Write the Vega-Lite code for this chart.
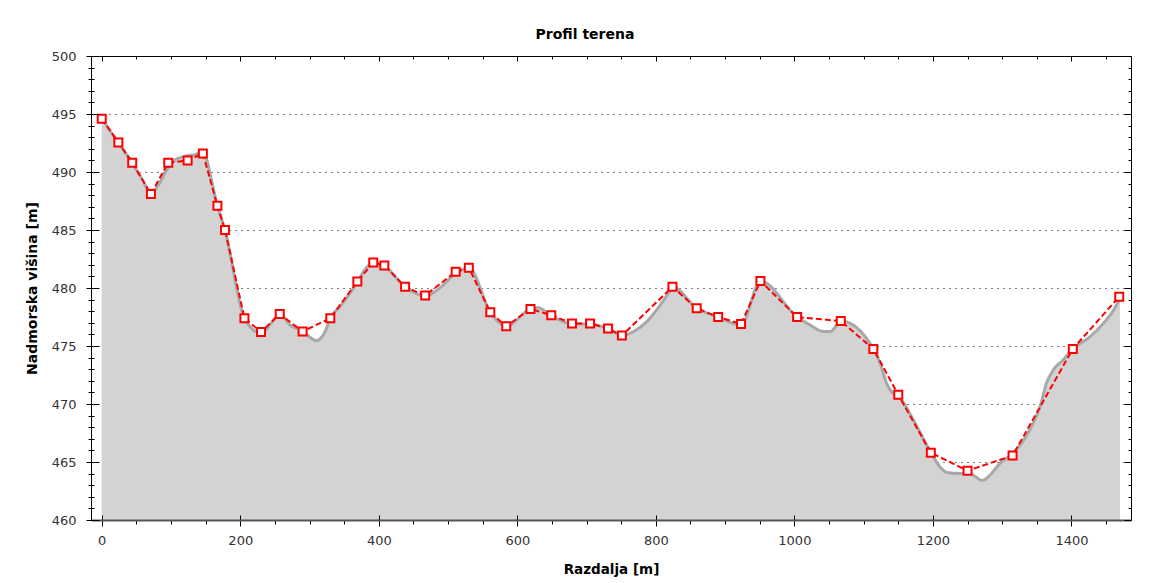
{
  "$schema": "https://vega.github.io/schema/vega-lite/v6.json",
  "autosize": {"type": "none"},
  "padding": {"left": 91, "top": 56, "right": 19, "bottom": 63},
  "width": 1040,
  "height": 464,
  "background": "white",
  "title": {"text": "Profil terena", "font": "DejaVu Sans", "fontSize": 14, "fontWeight": "bold", "color": "#000", "anchor": "middle", "dx": -26, "offset": 8},
  "config": {
    "view": {"stroke": "#000", "strokeWidth": 1},
    "axis": {"labelFont": "DejaVu Sans", "labelFontSize": 13, "labelColor": "#333", "titleFont": "DejaVu Sans", "titleFontSize": 13.5, "titleFontWeight": "bold", "titleColor": "#000", "tickColor": "#000", "domainColor": "#000", "grid": false}
  },
  "datasets": {
    "terrain": [
      {"distance": 0, "elevation": 494.6}, {"distance": 24, "elevation": 492.5}, {"distance": 44, "elevation": 490.8},
      {"distance": 60, "elevation": 489.2}, {"distance": 71, "elevation": 488.1}, {"distance": 82, "elevation": 488.9},
      {"distance": 94, "elevation": 490.2}, {"distance": 106, "elevation": 491.05}, {"distance": 120, "elevation": 491.35},
      {"distance": 135, "elevation": 491.5}, {"distance": 145, "elevation": 491.8}, {"distance": 167, "elevation": 487.1},
      {"distance": 178, "elevation": 485.0}, {"distance": 206, "elevation": 477.4}, {"distance": 230, "elevation": 476.1},
      {"distance": 245, "elevation": 477.0}, {"distance": 257, "elevation": 477.75}, {"distance": 272, "elevation": 476.8},
      {"distance": 291, "elevation": 476.25}, {"distance": 302, "elevation": 475.7}, {"distance": 310, "elevation": 475.45},
      {"distance": 318, "elevation": 475.8}, {"distance": 323, "elevation": 476.3}, {"distance": 330, "elevation": 477.4},
      {"distance": 344, "elevation": 478.4}, {"distance": 369, "elevation": 480.5}, {"distance": 380, "elevation": 481.6},
      {"distance": 392, "elevation": 482.2}, {"distance": 408, "elevation": 481.9}, {"distance": 438, "elevation": 480.1},
      {"distance": 467, "elevation": 479.3}, {"distance": 488, "elevation": 480.0}, {"distance": 508, "elevation": 481.1},
      {"distance": 530, "elevation": 481.75}, {"distance": 561, "elevation": 477.9}, {"distance": 584, "elevation": 476.7},
      {"distance": 619, "elevation": 478.2}, {"distance": 630, "elevation": 478.3}, {"distance": 649, "elevation": 477.6},
      {"distance": 679, "elevation": 476.9}, {"distance": 705, "elevation": 476.9}, {"distance": 731, "elevation": 476.5},
      {"distance": 751, "elevation": 475.9}, {"distance": 768, "elevation": 476.25}, {"distance": 787, "elevation": 477.1},
      {"distance": 806, "elevation": 478.5}, {"distance": 818, "elevation": 479.55}, {"distance": 824, "elevation": 480.1},
      {"distance": 859, "elevation": 478.25}, {"distance": 890, "elevation": 477.5}, {"distance": 923, "elevation": 476.8},
      {"distance": 951, "elevation": 480.6}, {"distance": 1004, "elevation": 477.5}, {"distance": 1023, "elevation": 476.8},
      {"distance": 1042, "elevation": 476.25}, {"distance": 1052, "elevation": 476.25}, {"distance": 1061, "elevation": 476.8},
      {"distance": 1067, "elevation": 477.15}, {"distance": 1114, "elevation": 474.75}, {"distance": 1124, "elevation": 473.5},
      {"distance": 1133, "elevation": 471.8}, {"distance": 1143, "elevation": 470.9}, {"distance": 1150, "elevation": 470.7},
      {"distance": 1172, "elevation": 468.6}, {"distance": 1197, "elevation": 465.8}, {"distance": 1210, "elevation": 464.6},
      {"distance": 1220, "elevation": 464.1}, {"distance": 1239, "elevation": 464.0}, {"distance": 1254, "elevation": 464.0},
      {"distance": 1262, "elevation": 463.7}, {"distance": 1271, "elevation": 463.4}, {"distance": 1283, "elevation": 463.9},
      {"distance": 1297, "elevation": 464.9}, {"distance": 1315, "elevation": 465.7}, {"distance": 1340, "elevation": 467.8},
      {"distance": 1355, "elevation": 469.8}, {"distance": 1364, "elevation": 471.8}, {"distance": 1374, "elevation": 472.95},
      {"distance": 1388, "elevation": 473.8}, {"distance": 1402, "elevation": 474.75}, {"distance": 1427, "elevation": 475.8},
      {"distance": 1446, "elevation": 476.95}, {"distance": 1463, "elevation": 478.3}, {"distance": 1470, "elevation": 479.1}
    ],
    "points": [
      {"distance": 0, "elevation": 494.6}, {"distance": 24, "elevation": 492.55}, {"distance": 44, "elevation": 490.8},
      {"distance": 71, "elevation": 488.1}, {"distance": 96, "elevation": 490.8}, {"distance": 124, "elevation": 491.0},
      {"distance": 146, "elevation": 491.6}, {"distance": 167, "elevation": 487.1}, {"distance": 178, "elevation": 485.0},
      {"distance": 206, "elevation": 477.4}, {"distance": 230, "elevation": 476.2}, {"distance": 257, "elevation": 477.75},
      {"distance": 290, "elevation": 476.25}, {"distance": 330, "elevation": 477.4}, {"distance": 369, "elevation": 480.55},
      {"distance": 392, "elevation": 482.2}, {"distance": 408, "elevation": 481.95}, {"distance": 438, "elevation": 480.1},
      {"distance": 467, "elevation": 479.35}, {"distance": 511, "elevation": 481.4}, {"distance": 530, "elevation": 481.75},
      {"distance": 561, "elevation": 477.9}, {"distance": 584, "elevation": 476.7}, {"distance": 619, "elevation": 478.2},
      {"distance": 649, "elevation": 477.65}, {"distance": 679, "elevation": 476.95}, {"distance": 705, "elevation": 476.95},
      {"distance": 731, "elevation": 476.5}, {"distance": 751, "elevation": 475.9}, {"distance": 824, "elevation": 480.1},
      {"distance": 859, "elevation": 478.25}, {"distance": 890, "elevation": 477.5}, {"distance": 923, "elevation": 476.9},
      {"distance": 951, "elevation": 480.6}, {"distance": 1004, "elevation": 477.5}, {"distance": 1067, "elevation": 477.15},
      {"distance": 1114, "elevation": 474.75}, {"distance": 1150, "elevation": 470.8}, {"distance": 1197, "elevation": 465.8},
      {"distance": 1250, "elevation": 464.25}, {"distance": 1315, "elevation": 465.55}, {"distance": 1402, "elevation": 474.75},
      {"distance": 1469, "elevation": 479.25}
    ]
  },
  "layer": [
    {
      "data": {"name": "terrain"},
      "mark": {"type": "area", "interpolate": "monotone", "color": "#d3d3d3", "opacity": 1, "clip": true},
      "encoding": {
        "x": {"field": "distance", "type": "quantitative", "scale": {"domain": [-15.5, 1486], "nice": false, "zero": false},
          "axis": {"orient": "bottom", "values": [0, 200, 400, 600, 800, 1000, 1200, 1400], "format": "d", "offset": -5, "tickSize": 11, "domain": false, "labelPadding": 8, "labelFlush": false, "labelOverlap": false, "title": "Razdalja [m]", "titlePadding": 15, "zindex": 1, "grid": false}},
        "y": {"field": "elevation", "type": "quantitative", "scale": {"domain": [460, 500], "nice": false, "zero": false},
          "axis": {"orient": "left", "values": [465, 470, 475, 480, 485, 490, 495], "grid": true, "gridColor": "#000", "gridDash": [1, 5], "gridWidth": 1, "gridOpacity": 1, "ticks": false, "labels": false, "domain": true, "domainColor": "#000", "title": null, "zindex": 0}}
      }
    },
    {
      "data": {"name": "terrain"},
      "mark": {"type": "line", "interpolate": "monotone", "color": "#a8a8a8", "strokeWidth": 3},
      "encoding": {
        "x": {"field": "distance", "type": "quantitative", "scale": {"domain": [-15.5, 1486], "nice": false, "zero": false},
          "axis": {"orient": "bottom", "values": [0, 50, 100, 150, 200, 250, 300, 350, 400, 450, 500, 550, 600, 650, 700, 750, 800, 850, 900, 950, 1000, 1050, 1100, 1150, 1200, 1250, 1300, 1350, 1400, 1450], "tickSize": 4, "labels": false, "domain": true, "domainColor": "#555", "domainWidth": 2, "title": null, "zindex": 1, "grid": false}},
        "y": {"field": "elevation", "type": "quantitative", "scale": {"domain": [460, 500], "nice": false, "zero": false},
          "axis": {"orient": "left", "values": [460, 465, 470, 475, 480, 485, 490, 495, 500], "format": "d", "offset": -8, "tickSize": 13, "domain": false, "labelPadding": 10, "labelFlush": false, "labelOverlap": false, "title": "Nadmorska višina [m]", "titleFontSize": 14, "titlePadding": 12, "zindex": 1, "grid": false}}
      }
    },
    {
      "data": {"name": "points"},
      "mark": {"type": "line", "color": "#ff0000", "strokeWidth": 2, "strokeDash": [6, 3]},
      "encoding": {
        "x": {"field": "distance", "type": "quantitative", "scale": {"domain": [-15.5, 1486], "nice": false, "zero": false},
          "axis": {"orient": "top", "values": [0, 50, 100, 150, 200, 250, 300, 350, 400, 450, 500, 550, 600, 650, 700, 750, 800, 850, 900, 950, 1000, 1050, 1100, 1150, 1200, 1250, 1300, 1350, 1400, 1450], "tickSize": {"condition": {"test": "datum.value % 200 === 0", "value": -5}, "value": -3}, "labels": false, "domain": false, "title": null, "zindex": 1, "grid": false}},
        "y": {"field": "elevation", "type": "quantitative", "scale": {"domain": [460, 500], "nice": false, "zero": false},
          "axis": {"orient": "left", "values": [460, 461, 462, 463, 464, 465, 466, 467, 468, 469, 470, 471, 472, 473, 474, 475, 476, 477, 478, 479, 480, 481, 482, 483, 484, 485, 486, 487, 488, 489, 490, 491, 492, 493, 494, 495, 496, 497, 498, 499, 500], "offset": -3, "tickSize": 6, "labels": false, "domain": false, "title": null, "zindex": 1, "grid": false}}
      }
    },
    {
      "data": {"name": "points"},
      "mark": {"type": "point", "shape": "square", "filled": true, "fill": "#ffffff", "stroke": "#ff0000", "strokeWidth": 2, "size": 64, "opacity": 1},
      "encoding": {
        "x": {"field": "distance", "type": "quantitative", "scale": {"domain": [-15.5, 1486], "nice": false, "zero": false}, "axis": null},
        "y": {"field": "elevation", "type": "quantitative", "scale": {"domain": [460, 500], "nice": false, "zero": false},
          "axis": {"orient": "right", "values": [460, 461, 462, 463, 464, 465, 466, 467, 468, 469, 470, 471, 472, 473, 474, 475, 476, 477, 478, 479, 480, 481, 482, 483, 484, 485, 486, 487, 488, 489, 490, 491, 492, 493, 494, 495, 496, 497, 498, 499, 500], "tickSize": {"condition": {"test": "datum.value % 5 === 0", "value": -7}, "value": -3}, "labels": false, "domain": false, "title": null, "zindex": 1, "grid": false}}
      }
    }
  ],
  "resolve": {"axis": {"x": "independent", "y": "independent"}}
}
